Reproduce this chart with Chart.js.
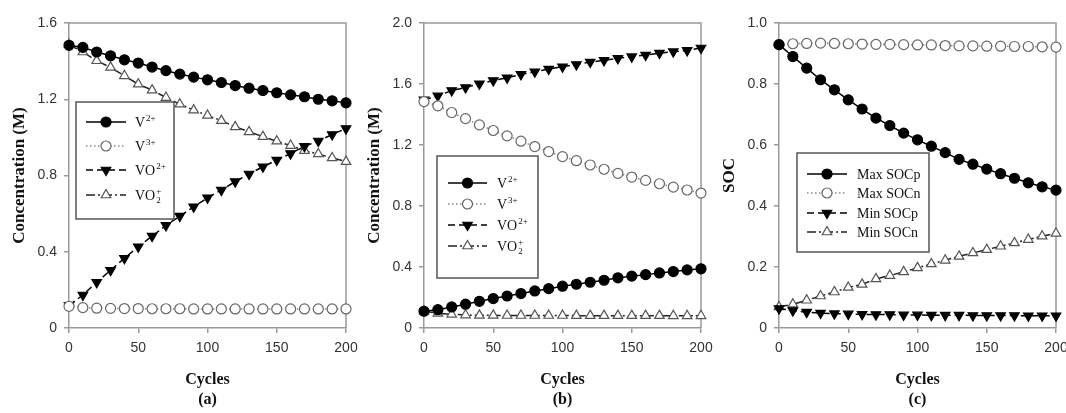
<!DOCTYPE html>
<html>
<head>
<meta charset="utf-8">
<script src="https://cdn.jsdelivr.net/npm/chart.js@4.4.1/dist/chart.umd.min.js"></script>
<style>
  html, body { margin: 0; padding: 0; background: #fff; overflow: hidden; width: 1066px; height: 413px; }
  canvas.panel { position: absolute; top: 0; }
</style>
</head>
<body>
<canvas id="chartA" class="panel" width="360" height="413" style="left:0px"></canvas>
<canvas id="chartB" class="panel" width="360" height="413" style="left:355px"></canvas>
<canvas id="chartC" class="panel" width="360" height="413" style="left:710px"></canvas>
<script>
const cycles = [0, 10, 20, 30, 40, 50, 60, 70, 80, 90, 100, 110, 120, 130, 140, 150, 160, 170, 180, 190, 200];

// (a)
const aV2 = [1.483, 1.472, 1.448, 1.428, 1.407, 1.390, 1.369, 1.350, 1.332, 1.316, 1.302, 1.288, 1.272, 1.258, 1.246, 1.234, 1.223, 1.213, 1.200, 1.192, 1.181];
const aV3 = [0.114, 0.107, 0.104, 0.103, 0.102, 0.102, 0.101, 0.101, 0.101, 0.100, 0.100, 0.100, 0.100, 0.100, 0.100, 0.100, 0.100, 0.100, 0.100, 0.100, 0.100];
const aVO = [0.119, 0.173, 0.240, 0.303, 0.366, 0.426, 0.482, 0.538, 0.587, 0.636, 0.683, 0.724, 0.768, 0.808, 0.846, 0.881, 0.915, 0.953, 0.981, 1.015, 1.046];
const aVO2 = [1.486, 1.448, 1.402, 1.367, 1.323, 1.279, 1.248, 1.209, 1.174, 1.143, 1.115, 1.088, 1.055, 1.029, 1.004, 0.980, 0.957, 0.931, 0.913, 0.892, 0.873];

// (b)
const bV2 = [0.110, 0.120, 0.138, 0.156, 0.175, 0.193, 0.210, 0.226, 0.243, 0.258, 0.274, 0.287, 0.300, 0.313, 0.329, 0.340, 0.350, 0.361, 0.370, 0.381, 0.388];
const bV3 = [1.485, 1.457, 1.413, 1.373, 1.332, 1.295, 1.260, 1.225, 1.190, 1.157, 1.124, 1.097, 1.069, 1.041, 1.014, 0.990, 0.968, 0.946, 0.924, 0.905, 0.885];
const bVO = [1.496, 1.522, 1.557, 1.577, 1.601, 1.623, 1.641, 1.663, 1.680, 1.698, 1.713, 1.728, 1.744, 1.755, 1.768, 1.779, 1.790, 1.803, 1.812, 1.820, 1.836];
const bVO2 = [0.110, 0.096, 0.090, 0.085, 0.083, 0.083, 0.082, 0.082, 0.082, 0.082, 0.082, 0.081, 0.081, 0.081, 0.081, 0.081, 0.081, 0.081, 0.080, 0.080, 0.080];

// (c)
const cMaxP = [0.929, 0.890, 0.852, 0.814, 0.781, 0.748, 0.718, 0.688, 0.664, 0.639, 0.617, 0.596, 0.575, 0.553, 0.537, 0.521, 0.506, 0.491, 0.476, 0.463, 0.452];
const cMaxN = [0.929, 0.932, 0.933, 0.934, 0.933, 0.932, 0.931, 0.930, 0.930, 0.929, 0.928, 0.928, 0.926, 0.925, 0.925, 0.924, 0.924, 0.923, 0.923, 0.922, 0.921];
const cMinP = [0.064, 0.057, 0.052, 0.049, 0.047, 0.046, 0.045, 0.044, 0.044, 0.043, 0.043, 0.042, 0.042, 0.042, 0.041, 0.041, 0.041, 0.041, 0.040, 0.040, 0.040];
const cMinN = [0.069, 0.078, 0.091, 0.105, 0.118, 0.133, 0.143, 0.161, 0.172, 0.184, 0.197, 0.210, 0.222, 0.235, 0.246, 0.257, 0.268, 0.279, 0.290, 0.301, 0.310];

const ionLabels = ['V^{2+}', 'V^{3+}', 'VO^{2+}', 'VO_{2}^{+}'];
const socLabels = ['Max SOCp', 'Max SOCn', 'Min SOCp', 'Min SOCn'];
const xTicks = [0, 50, 100, 150, 200];

const SERIF = '"Liberation Serif", "Times New Roman", serif';
const SANS = '"Liberation Sans", Arial, sans-serif';

// filled circle / open circle / filled down triangle / open triangle
const styles = [
  { pointStyle: 'circle', rotation: 0, radius: 5, fill: '#000', stroke: '#000', line: '#000', dash: [] },
  { pointStyle: 'circle', rotation: 0, radius: 5, fill: '#fff', stroke: '#666', line: '#888', dash: [1.5, 2.5] },
  { pointStyle: 'triangle', rotation: 180, radius: 5.5, fill: '#000', stroke: '#000', line: '#000', dash: [7, 4] },
  { pointStyle: 'triangle', rotation: 0, radius: 5.5, fill: '#fff', stroke: '#555', line: '#222', dash: [9, 3, 2, 3] }
];

// draws "VO_{2}^{+}" style text with sub/superscripts
function drawRich(ctx, text, x, y, size) {
  const tokens = [];
  const re = /([_^])\{([^}]*)\}|([^_^]+)/g;
  let m;
  while ((m = re.exec(text)) !== null) {
    if (m[3]) tokens.push({ t: 'n', s: m[3] });
    else tokens.push({ t: m[1] === '^' ? 'sup' : 'sub', s: m[2] });
  }
  const base = y + size * 0.35;
  const small = Math.round(size * 0.64);
  ctx.textAlign = 'left';
  ctx.textBaseline = 'alphabetic';
  let i = 0;
  while (i < tokens.length) {
    const tk = tokens[i];
    if (tk.t === 'n') {
      ctx.font = size + 'px ' + SERIF;
      ctx.fillText(tk.s, x, base);
      x += ctx.measureText(tk.s).width;
      i++;
    } else {
      ctx.font = small + 'px ' + SERIF;
      let w = 0;
      let j = i;
      while (j < tokens.length && tokens[j].t !== 'n') {
        const dy = tokens[j].t === 'sup' ? -size * 0.4 : size * 0.22;
        ctx.fillText(tokens[j].s, x + 1, base + dy);
        w = Math.max(w, ctx.measureText(tokens[j].s).width);
        j++;
      }
      x += w + 1;
      i = j;
    }
  }
}

const boxLegend = {
  id: 'boxLegend',
  afterDatasetsDraw(chart, args, opts) {
    const ctx = chart.ctx;
    ctx.save();
    ctx.fillStyle = '#fff';
    ctx.strokeStyle = '#555';
    ctx.lineWidth = 1.5;
    ctx.fillRect(opts.box[0], opts.box[1], opts.box[2], opts.box[3]);
    ctx.strokeRect(opts.box[0], opts.box[1], opts.box[2], opts.box[3]);
    chart.data.datasets.forEach((ds, i) => {
      const y = opts.rows[i];
      ctx.setLineDash(ds.borderDash || []);
      ctx.strokeStyle = ds.borderColor;
      ctx.lineWidth = ds.borderWidth;
      ctx.beginPath();
      ctx.moveTo(opts.line[0], y);
      ctx.lineTo(opts.line[1], y);
      ctx.stroke();
      ctx.setLineDash([]);
      ctx.fillStyle = ds.pointBackgroundColor;
      ctx.strokeStyle = ds.pointBorderColor;
      ctx.lineWidth = 1.2;
      Chart.helpers.drawPoint(ctx, {
        pointStyle: ds.pointStyle, rotation: ds.pointRotation,
        radius: ds.pointRadius, borderWidth: 1.2
      }, (opts.line[0] + opts.line[1]) / 2, y);
      ctx.fillStyle = '#111';
      drawRich(ctx, ds.label, opts.textX, y, 14);
    });
    ctx.restore();
  }
};

// top and right sides of the plot frame
const frame = {
  id: 'frame',
  beforeDatasetsDraw(chart) {
    const { ctx, chartArea: a } = chart;
    ctx.save();
    ctx.strokeStyle = '#999';
    ctx.lineWidth = 1.5;
    ctx.beginPath();
    ctx.moveTo(a.left, a.top);
    ctx.lineTo(a.right, a.top);
    ctx.lineTo(a.right, a.bottom);
    ctx.stroke();
    ctx.restore();
  }
};

function makeDatasets(labels, series) {
  return series.map((vals, i) => {
    const st = styles[i];
    return {
      label: labels[i],
      data: cycles.map((c, k) => ({ x: c, y: vals[k] })),
      borderColor: st.line,
      borderWidth: 1.5,
      borderDash: st.dash,
      pointStyle: st.pointStyle,
      pointRotation: st.rotation,
      pointRadius: st.radius,
      pointBackgroundColor: st.fill,
      pointBorderColor: st.stroke,
      pointBorderWidth: 1.2,
      tension: 0,
      clip: false
    };
  });
}

function drawPanel(id, labels, series, yMax, yStep, yTitle, tag, legend) {
  const ctx = document.getElementById(id);
  return new Chart(ctx, {
    type: 'line',
    data: { datasets: makeDatasets(labels, series) },
    options: {
      responsive: false,
      animation: false,
      devicePixelRatio: 1,
      layout: { padding: { top: 23, right: 14, bottom: 0, left: 0 } },
      plugins: {
        legend: { display: false },
        tooltip: { enabled: false },
        boxLegend: legend
      },
      scales: {
        x: {
          type: 'linear',
          min: 0,
          max: 200,
          afterBuildTicks: (s) => { s.ticks = xTicks.map((v) => ({ value: v })); },
          ticks: { color: '#333', font: { family: SANS, size: 14 }, padding: 7, maxRotation: 0 },
          grid: { drawOnChartArea: false, drawTicks: true, tickLength: 5, color: '#999', lineWidth: 1.5 },
          border: { display: true, color: '#999', width: 1.5 },
          title: {
            display: true, text: ['Cycles', tag], color: '#111',
            font: { family: SERIF, size: 16, weight: 'bold' },
            padding: { top: 0, bottom: 4 }
          },
          afterFit: (s) => { s.height = 85; s.paddingLeft = 0; s.paddingRight = 0; }
        },
        y: {
          min: 0,
          max: yMax,
          ticks: {
            stepSize: yStep,
            color: '#333',
            font: { family: SANS, size: 14 },
            padding: 7,
            callback: (v) => (v === 0 ? '0' : v.toFixed(1))
          },
          grid: { drawOnChartArea: false, drawTicks: true, tickLength: 5, color: '#999', lineWidth: 1.5 },
          border: { display: true, color: '#999', width: 1.5 },
          title: {
            display: true, text: yTitle, color: '#111',
            font: { family: SERIF, size: 17, weight: 'bold' },
            padding: { top: 9, bottom: 0 }
          },
          afterFit: (s) => { s.width = 69; s.paddingTop = 0; s.paddingBottom = 0; }
        }
      }
    },
    plugins: [frame, boxLegend]
  });
}

drawPanel('chartA', ionLabels, [aV2, aV3, aVO, aVO2], 1.6, 0.4, 'Concentration (M)', '(a)',
  { box: [76, 102, 98, 117], rows: [122, 146, 170, 195], line: [86, 126], textX: 135 });
drawPanel('chartB', ionLabels, [bV2, bV3, bVO, bVO2], 2.0, 0.4, 'Concentration (M)', '(b)',
  { box: [82, 156, 101, 122], rows: [183, 204, 225, 246], line: [93, 132], textX: 142 });
drawPanel('chartC', socLabels, [cMaxP, cMaxN, cMinP, cMinN], 1.0, 0.2, 'SOC', '(c)',
  { box: [87, 153, 132, 99], rows: [174, 193, 213, 232], line: [97, 137], textX: 147 });
</script>
</body>
</html>
